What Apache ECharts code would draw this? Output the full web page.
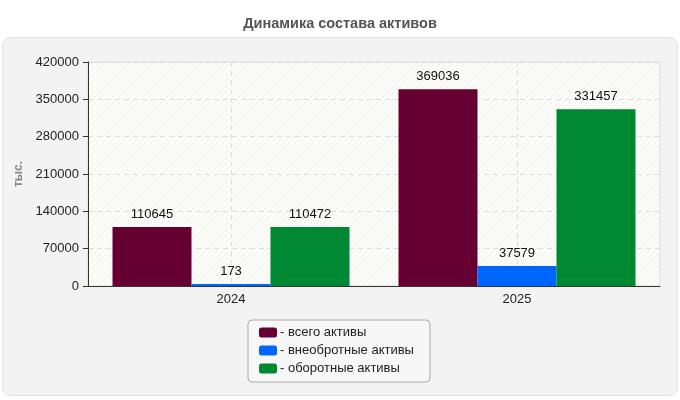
<!DOCTYPE html>
<html lang="ru">
<head>
    <meta charset="UTF-8">
    <title>Динамика состава активов</title>
    <style>
        html, body { margin: 0; padding: 0; background: #fff; }
        #chart { width: 680px; height: 400px; }
    </style>
    <script src="https://cdn.jsdelivr.net/npm/echarts@6/dist/echarts.min.js"></script>
</head>
<body>
    <div id="chart"></div>
    <script>
        // данные
        var years = ['2024', '2025'];
        var totalAssets = [110645, 369036];
        var fixedAssets = [173, 37579];
        var currentAssets = [110472, 331457];
        var seriesNames = ['- всего активы', '- внеобротные активы', '- оборотные активы'];
        var seriesColors = ['#660033', '#0066ff', '#008833'];

        // штриховка фона области графика
        var hatch = document.createElement('canvas');
        hatch.width = 6;
        hatch.height = 6;
        var hctx = hatch.getContext('2d');
        hctx.fillStyle = '#fcfcf8';
        hctx.fillRect(0, 0, 6, 6);
        hctx.strokeStyle = '#eeeeea';
        hctx.lineWidth = 1;
        hctx.beginPath();
        hctx.moveTo(0, 6);
        hctx.lineTo(6, 0);
        hctx.moveTo(-3, 3);
        hctx.lineTo(3, -3);
        hctx.moveTo(3, 9);
        hctx.lineTo(9, 3);
        hctx.stroke();

        var chart = echarts.init(document.getElementById('chart'));
        var font = '"Liberation Sans", Arial, sans-serif';

        function makeSeries(i, data) {
            return {
                name: seriesNames[i],
                type: 'bar',
                data: data,
                barWidth: 79,
                barGap: '0%',
                barMinHeight: 2,
                itemStyle: { color: seriesColors[i] },
                label: {
                    show: true,
                    position: 'top',
                    distance: 6,
                    color: '#111',
                    fontSize: 13,
                    fontFamily: font
                }
            };
        }

        var option = {
            animation: false,
            backgroundColor: '#ffffff',
            title: {
                text: 'Динамика состава активов',
                left: 'center',
                top: 11,
                textStyle: { fontSize: 14.5, fontWeight: 'bold', color: '#555', fontFamily: font }
            },
            graphic: [{
                type: 'rect',
                z: -10,
                shape: { x: 2.5, y: 37.5, width: 675, height: 358, r: 8 },
                style: { fill: '#f3f3f3', stroke: '#e2e2e2', lineWidth: 1 }
            }],
            legend: {
                orient: 'vertical',
                left: 248,
                top: 320,
                padding: [6, 16, 7, 11],
                itemGap: 5,
                itemWidth: 18,
                itemHeight: 10,
                icon: 'roundRect',
                backgroundColor: '#f7f7f7',
                borderColor: '#aaa',
                borderWidth: 1,
                borderRadius: 4,
                data: seriesNames,
                textStyle: { fontSize: 13, color: '#222', fontFamily: font, padding: [0, 0, 0, -2] }
            },
            grid: {
                left: 88,
                right: 20,
                top: 62,
                bottom: 114,
                show: true,
                backgroundColor: { image: hatch, repeat: 'repeat' },
                borderColor: '#dddddd',
                borderWidth: 1
            },
            xAxis: {
                type: 'category',
                data: years,
                axisLine: { lineStyle: { color: '#333' } },
                axisTick: { alignWithLabel: true, length: 5, lineStyle: { color: '#333' } },
                axisLabel: { color: '#222', fontSize: 13, fontFamily: font, margin: 7 },
                splitLine: {
                    show: true,
                    alignWithLabel: true,
                    lineStyle: { color: '#dddddd', type: [5, 4] }
                }
            },
            yAxis: {
                type: 'value',
                min: 0,
                max: 420000,
                interval: 70000,
                name: 'тыс.',
                nameLocation: 'middle',
                nameRotate: 90,
                nameGap: 63,
                nameTextStyle: { color: '#888', fontSize: 12, fontWeight: 'bold', fontFamily: font },
                axisLine: { show: true, lineStyle: { color: '#333' } },
                axisTick: { show: true, length: 5, lineStyle: { color: '#333' } },
                axisLabel: {
                    color: '#222', fontSize: 13, fontFamily: font, margin: 9,
                    formatter: function (v) { return String(v); }
                },
                splitLine: { show: true, lineStyle: { color: '#dddddd', type: [5, 4] } }
            },
            series: [
                makeSeries(0, totalAssets),
                makeSeries(1, fixedAssets),
                makeSeries(2, currentAssets)
            ]
        };

        chart.setOption(option);
    </script>
</body>
</html>
